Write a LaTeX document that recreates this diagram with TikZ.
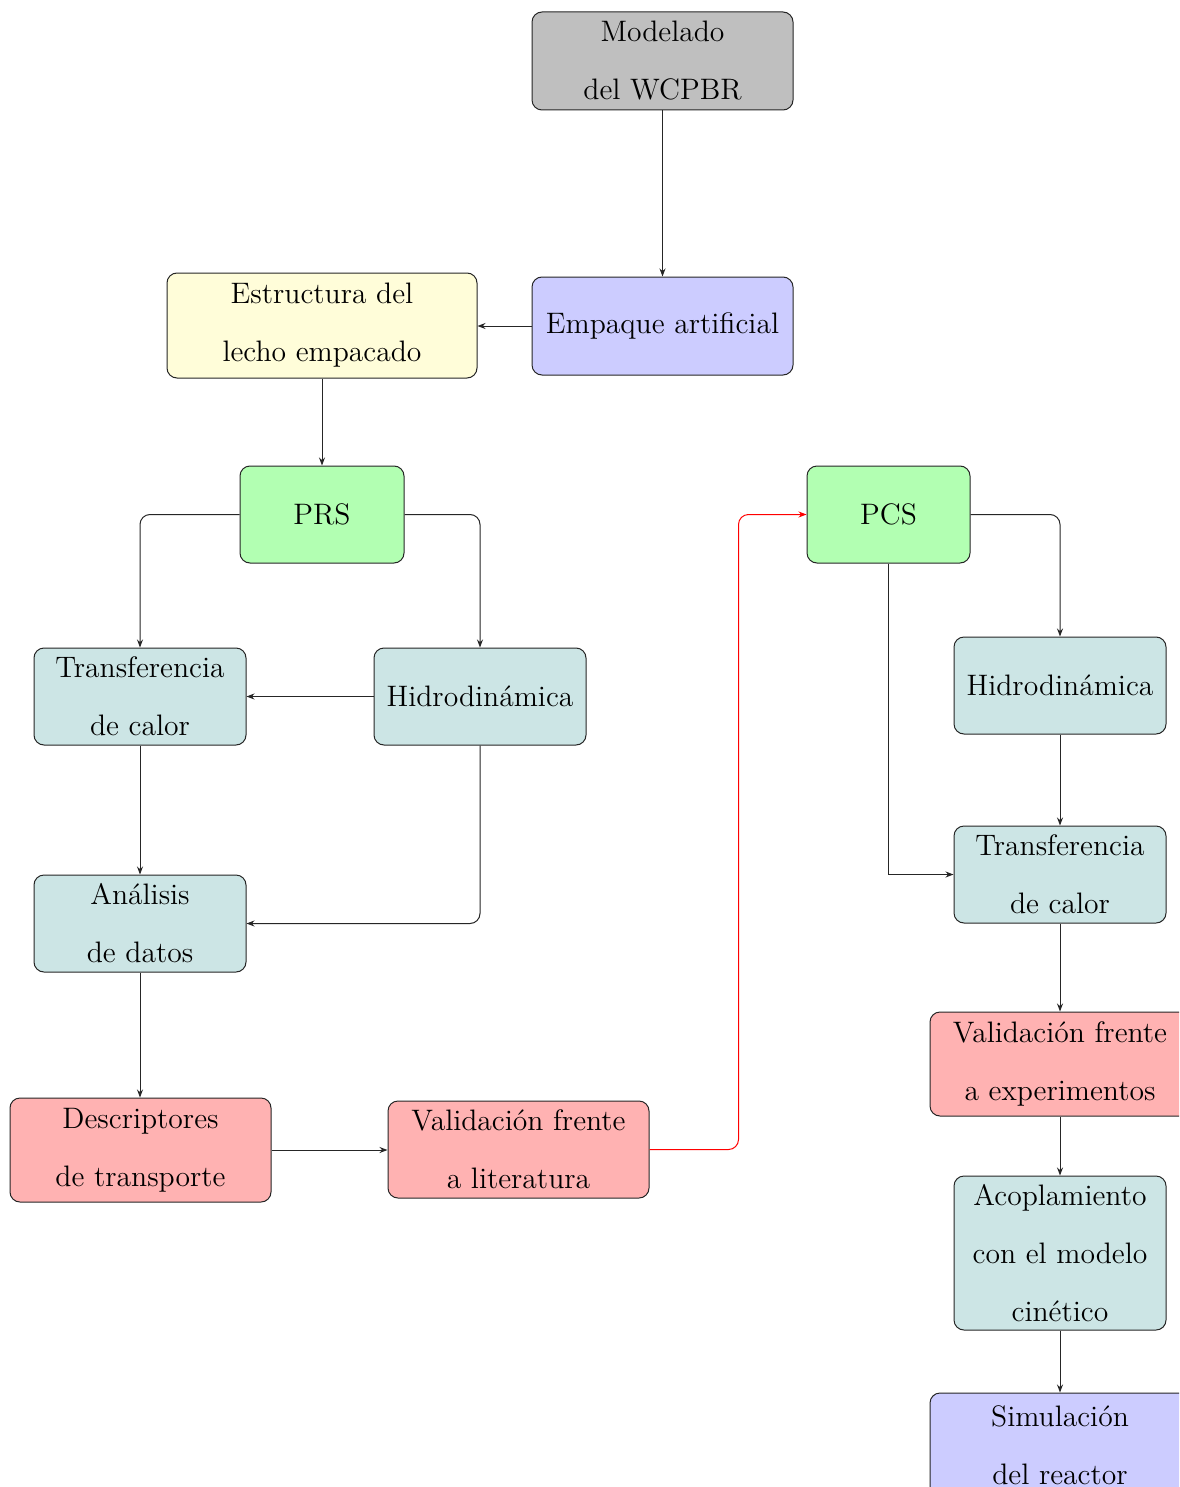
\documentclass[tikz,border=0pt]{standalone}
\usetikzlibrary{arrows.meta}
\begin{document}
\begin{tikzpicture}[x=0.5pt,y=-0.5pt,
  bx/.style={draw=black!85, rounded corners=5pt, align=center, inner sep=0pt,
    font=\fontsize{14.8}{29}\selectfont, line width=0.5pt},
  cgray/.style={bx, fill=gray!50},
  cblue/.style={bx, fill=blue!20},
  cyel/.style={bx, fill=yellow!15},
  cgreen/.style={bx, fill=green!30},
  cteal/.style={bx, fill=teal!20},
  cred/.style={bx, fill=red!30},
  arr/.style={draw=black!85, line width=0.5pt, -{Stealth[length=4pt,width=3pt]}},
  rarr/.style={arr, draw=red},
]
\clip (0,0) rectangle (1179,1487);
\fill[white] (0,0) rectangle (1179,1487);

\node[cgray, minimum width=130.5pt, minimum height=49pt] (mod) at (662.5,61) {Modelado\\del WCPBR};
\node[cblue, minimum width=130.5pt, minimum height=49pt] (emp) at (662.5,326) {Empaque artificial};
\node[cyel, minimum width=155pt, minimum height=52.5pt] (est) at (322,325.5) {Estructura del\\lecho empacado};
\node[cgreen, minimum width=82pt, minimum height=48.5pt] (prs) at (322,514.5) {PRS};
\node[cgreen, minimum width=81.5pt, minimum height=48.5pt] (pcs) at (888.5,514.5) {PCS};
\node[cteal, minimum width=106pt, minimum height=48.5pt] (tcl) at (140,696.5) {Transferencia\\de calor};
\node[cteal, minimum width=106pt, minimum height=48.5pt] (hil) at (480,696.5) {Hidrodinámica};
\node[cteal, minimum width=106pt, minimum height=48.5pt] (ana) at (140,923.5) {Análisis\\de datos};
\node[cred, minimum width=130.5pt, minimum height=52pt] (des) at (140.5,1150) {Descriptores\\de transporte};
\node[cred, minimum width=130.5pt, minimum height=48.5pt] (vlit) at (518.5,1149.5) {Validación frente\\a literatura};
\node[cteal, minimum width=106pt, minimum height=48.5pt] (hir) at (1060,685.5) {Hidrodinámica};
\node[cteal, minimum width=106pt, minimum height=48.5pt] (tcr) at (1060,874.5) {Transferencia\\de calor};
\node[cred, minimum width=130pt, minimum height=52pt] (vexp) at (1060,1064) {Validación frente\\a experimentos};
\node[cteal, minimum width=106pt, minimum height=77pt] (aco) at (1060,1253) {Acoplamiento\\con el modelo\\cinético};
\node[cblue, minimum width=130pt, minimum height=52pt] (sim) at (1060,1445) {Simulación\\del reactor};

\draw[arr] (mod.south) -- (emp.north);
\draw[arr] (emp.west) -- (est.east |- emp.west);
\draw[arr] (est.south) -- (prs.north);
\draw[arr, rounded corners=5pt] (prs.west) -| (tcl.north);
\draw[arr, rounded corners=5pt] (prs.east) -| (hil.north);
\draw[arr] (hil.west) -- (tcl.east);
\draw[arr] (tcl.south) -- (ana.north);
\draw[arr, rounded corners=5pt] (hil.south) |- (ana.east);
\draw[arr] (ana.south) -- (des.north -| ana.south);
\draw[arr] (des.east) -- (vlit.west |- des.east);
\draw[rarr, rounded corners=5pt] (vlit.east) -- ++(89,0) |- (pcs.west);
\draw[arr, rounded corners=5pt] (pcs.east) -| (hir.north);
\draw[arr] (pcs.south) |- (tcr.west);
\draw[arr] (hir.south) -- (tcr.north);
\draw[arr] (tcr.south) -- (vexp.north);
\draw[arr] (vexp.south) -- (aco.north);
\draw[arr] (aco.south) -- (sim.north);
\end{tikzpicture}
\end{document}
